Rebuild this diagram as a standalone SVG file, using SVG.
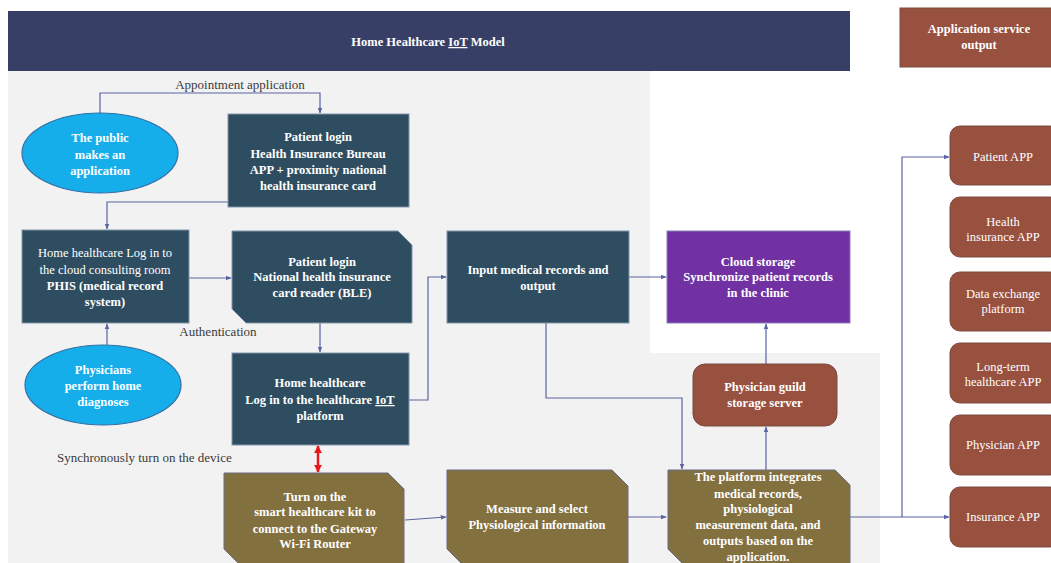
<svg xmlns="http://www.w3.org/2000/svg" width="1051" height="563" viewBox="0 0 1051 563">
<defs>
<style>
.t{font-family:"Liberation Serif","Times New Roman",serif;font-size:12.5px;font-weight:bold;fill:#ffffff;text-anchor:middle}
.r{font-family:"Liberation Serif","Times New Roman",serif;font-size:12.5px;fill:#ffffff;text-anchor:middle}
.lbl{font-family:"Liberation Serif","Times New Roman",serif;font-size:13px;fill:#3a3a3a}
.dark{fill:#2f4d60;stroke:#8296aa;stroke-width:1}
.olive{fill:#83703f;stroke:#6b6a86;stroke-width:1}
.brown{fill:#98503f;stroke:#7a4a40;stroke-width:1}
.sky{fill:#15aeea;stroke:#2f6fa7;stroke-width:1.2}
.c{fill:none;stroke:#5a64a2;stroke-width:1.2}
.u{text-decoration:underline}
</style>
<marker id="ah" viewBox="0 0 10 10" refX="9" refY="5" markerWidth="6" markerHeight="6" orient="auto-start-reverse" markerUnits="userSpaceOnUse">
<path d="M0,1 L10,5 L0,9 Z" fill="#5a64a2"/>
</marker>
<marker id="ahr" viewBox="0 0 10 10" refX="9" refY="5" markerWidth="8" markerHeight="8" orient="auto-start-reverse" markerUnits="userSpaceOnUse">
<path d="M0,0 L10,5 L0,10 Z" fill="#e8181c"/>
</marker>
</defs>
<rect width="1051" height="563" fill="#ffffff"/>
<polygon points="8,71 650,71 650,353 880,353 880,563 8,563" fill="#f2f2f2"/>

<g id="title">
<rect x="8" y="11" width="842" height="60" fill="#373f66"/>
<text class="t" x="428" y="46">Home Healthcare <tspan class="u">IoT</tspan> Model</text>
</g>

<g id="app-service-output">
<rect x="900" y="8" width="160" height="59" class="brown"/>
<text class="t" x="979" y="33">Application service</text>
<text class="t" x="979" y="49">output</text>
</g>

<g id="connectors">
<path class="c" d="M100,113 V93 H320 V113" marker-end="url(#ah)"/>
<path class="c" d="M228,202 H107 V229" marker-end="url(#ah)"/>
<path class="c" d="M107,345 V324" marker-end="url(#ah)"/>
<path class="c" d="M189,278 H231" marker-end="url(#ah)"/>
<path class="c" d="M320,323 V352" marker-end="url(#ah)"/>
<path class="c" d="M409,400 H428 V277 H446" marker-end="url(#ah)"/>
<path class="c" d="M629,277 H666" marker-end="url(#ah)"/>
<path class="c" d="M546,323 V398 H682 V469" marker-end="url(#ah)"/>
<path class="c" d="M766,470 V427" marker-end="url(#ah)"/>
<path class="c" d="M766,364 V324" marker-end="url(#ah)"/>
<path d="M318,446 V472" fill="none" stroke="#e8181c" stroke-width="2.5" marker-start="url(#ahr)" marker-end="url(#ahr)"/>
<path class="c" d="M405,520 L446,517" marker-end="url(#ah)"/>
<path class="c" d="M628,517 H666" marker-end="url(#ah)"/>
<path class="c" d="M850,517 H949" marker-end="url(#ah)"/>
<path class="c" d="M902,517 V157 H949" marker-end="url(#ah)"/>
<text class="lbl" x="240" y="89" text-anchor="middle">Appointment application</text>
<text class="lbl" x="218" y="336" text-anchor="middle">Authentication</text>
<text class="lbl" x="57" y="462">Synchronously turn on the device</text>
</g>

<g id="public">
<ellipse cx="100" cy="153" rx="78" ry="40" class="sky"/>
<text class="t" x="100" y="142">The public</text>
<text class="t" x="100" y="159">makes an</text>
<text class="t" x="100" y="175">application</text>
</g>

<g id="patient-login-app">
<rect x="228" y="114" width="181" height="93" class="dark"/>
<text class="t" x="318" y="141">Patient login</text>
<text class="t" x="318" y="158">Health Insurance Bureau</text>
<text class="t" x="318" y="174">APP + proximity national</text>
<text class="t" x="318" y="190">health insurance card</text>
</g>

<g id="cloud-consulting">
<rect x="22" y="230" width="167" height="93" class="dark"/>
<text class="r" x="105" y="257">Home healthcare Log in to</text>
<text class="r" x="105" y="274">the cloud consulting room</text>
<text class="t" x="105" y="290">PHIS (medical record</text>
<text class="t" x="105" y="306">system)</text>
</g>

<g id="physicians">
<ellipse cx="103" cy="385" rx="78" ry="40" class="sky"/>
<text class="t" x="103" y="374">Physicians</text>
<text class="t" x="103" y="390">perform home</text>
<text class="t" x="103" y="406">diagnoses</text>
</g>

<g id="patient-login-reader">
<path d="M232,231 H398 L412,245 V323 H246 L232,309 Z" class="dark"/>
<text class="t" x="322" y="266">Patient login</text>
<text class="t" x="322" y="281">National health insurance</text>
<text class="t" x="322" y="297">card reader (BLE)</text>
</g>

<g id="iot-platform-login">
<rect x="232" y="353" width="177" height="92" class="dark"/>
<text class="t" x="320" y="387">Home healthcare</text>
<text class="t" x="320" y="404">Log in to the healthcare <tspan class="u">IoT</tspan></text>
<text class="t" x="320" y="420">platform</text>
</g>

<g id="input-records">
<rect x="447" y="231" width="182" height="92" class="dark"/>
<text class="t" x="538" y="274">Input medical records and</text>
<text class="t" x="538" y="290">output</text>
</g>

<g id="cloud-storage">
<rect x="667" y="231" width="183" height="92" fill="#7131a3" stroke="#8a7fb8" stroke-width="1"/>
<text class="t" x="758" y="266">Cloud storage</text>
<text class="t" x="758" y="281">Synchronize patient records</text>
<text class="t" x="758" y="297">in the clinic</text>
</g>

<g id="guild-server">
<rect x="693" y="364" width="144" height="62" rx="12" class="brown"/>
<text class="t" x="765" y="391">Physician guild</text>
<text class="t" x="765" y="407">storage server</text>
</g>

<g id="smart-kit">
<path d="M224,473 H388 L404,489 V565 H240 L224,549 Z" class="olive"/>
<text class="t" x="315" y="501">Turn on the</text>
<text class="t" x="315" y="516">smart healthcare kit to</text>
<text class="t" x="315" y="533">connect to the Gateway</text>
<text class="t" x="315" y="548">Wi-Fi Router</text>
</g>

<g id="measure">
<path d="M447,470 H612 L628,486 V565 H463 L447,549 Z" class="olive"/>
<text class="t" x="537" y="513">Measure and select</text>
<text class="t" x="537" y="529">Physiological information</text>
</g>

<g id="platform">
<path d="M668,470 H835 L850,485 V565 H684 L668,549 Z" class="olive"/>
<text class="t" x="758" y="481">The platform integrates</text>
<text class="t" x="758" y="498">medical records,</text>
<text class="t" x="758" y="513">physiological</text>
<text class="t" x="758" y="529">measurement data, and</text>
<text class="t" x="758" y="545">outputs based on the</text>
<text class="t" x="758" y="561">application.</text>
</g>

<g id="patient-app">
<rect x="950" y="126" width="110" height="59" rx="10" class="brown"/>
<text class="r" x="1003" y="161">Patient APP</text>
</g>
<g id="health-insurance-app">
<rect x="950" y="197" width="110" height="60" rx="10" class="brown"/>
<text class="r" x="1003" y="226">Health</text>
<text class="r" x="1003" y="241">insurance APP</text>
</g>
<g id="data-exchange">
<rect x="950" y="272" width="110" height="59" rx="10" class="brown"/>
<text class="r" x="1003" y="298">Data exchange</text>
<text class="r" x="1003" y="313">platform</text>
</g>
<g id="long-term-app">
<rect x="950" y="343" width="110" height="60" rx="10" class="brown"/>
<text class="r" x="1003" y="371">Long-term</text>
<text class="r" x="1003" y="386">healthcare APP</text>
</g>
<g id="physician-app">
<rect x="950" y="415" width="110" height="60" rx="10" class="brown"/>
<text class="r" x="1003" y="449">Physician APP</text>
</g>
<g id="insurance-app">
<rect x="950" y="487" width="110" height="60" rx="10" class="brown"/>
<text class="r" x="1003" y="521">Insurance APP</text>
</g>
</svg>
